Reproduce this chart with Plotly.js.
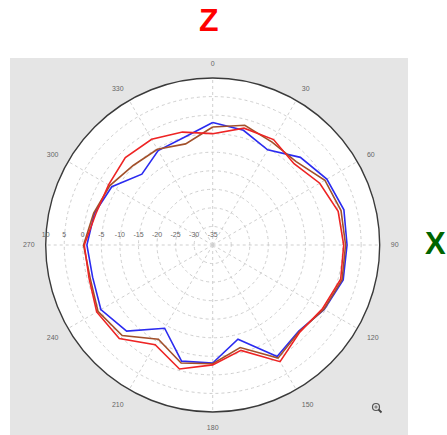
<!DOCTYPE html>
<html>
<head>
<meta charset="utf-8">
<script src="https://cdn.plot.ly/plotly-3.0.1.min.js"></script>
<style>html,body{margin:0;padding:0;background:#fff;}#chart{width:447px;height:435px;}</style>
</head>
<body>
<div id="chart"></div>
<script>
// Angles (degrees, clockwise from top)
const angles = [0,15,30,45,60,75,90,105,120,135,150,165,180,195,210,225,240,255,270,285,300,315,330,345];
// Series values (dB)
const blueVals  = [-2.0,-3.0,-5.4,-1.6,0.5,1.6,1.2,1.4,-0.3,-2.2,-0.3,-8.7,-3.2,-2.6,-9.1,-2.2,-0.2,-1.5,-1.1,-2.0,-3.6,-8.0,-5.6,-5.0];
const brownVals = [-3.2,-1.6,-3.0,-3.2,-0.1,0.8,0.8,1.1,-0.4,-2.0,0.2,-6.4,-3.0,-2.1,-5.7,-0.5,0.7,-0.8,-0.2,-1.8,-3.0,-4.7,-5.2,-6.8];
const redVals   = [-5.0,-2.4,-2.2,-4.0,-1.7,0.0,0.3,0.7,-0.8,-1.8,1.3,-5.6,-2.7,-0.4,-4.0,0.6,1.1,-0.5,-0.4,-2.4,-2.6,-1.7,-2.1,-3.5];
// Tick labels
const radialTicks = [-35,-30,-25,-20,-15,-10,-5,0,5,10];
const angularTicks = [0,30,60,90,120,150,180,210,240,270,300,330];

function closed(a){ return a.concat([a[0]]); }

const series = [
  {name:'blue', r: blueVals, color:'#2b2bf0'},
  {name:'brown', r: brownVals, color:'#a2502a'},
  {name:'red', r: redVals, color:'#ee2424'}
];

const traces = series.map(s => ({
  type:'scatterpolar', mode:'lines',
  r: closed(s.r), theta: closed(angles),
  line:{color:s.color, width:1.6},
  name:s.name, hoverinfo:'skip'
}));

const W = 447, H = 435;
const cx = 212.7, cy = 245, R = 167;

const layout = {
  width: W, height: H,
  margin:{l:0,r:0,t:0,b:0},
  paper_bgcolor:'#ffffff',
  showlegend:false,
  polar:{
    domain:{x:[(cx-R)/W,(cx+R)/W], y:[(H-cy-R)/H,(H-cy+R)/H]},
    bgcolor:'#ffffff',
    angularaxis:{
      rotation:90, direction:'clockwise',
      tickmode:'array', tickvals: angularTicks, ticktext: angularTicks.map(String),
      ticks:'outside', ticklen:9, tickcolor:'rgba(0,0,0,0)',
      showline:true, linecolor:'#3a3a3a', linewidth:1.4,
      gridcolor:'#cfcfcf', griddash:'dot', gridwidth:1,
      tickfont:{family:'Liberation Sans, Arial, sans-serif', size:7, color:'#666'}
    },
    radialaxis:{
      range:[-35,10], angle:180, side:'clockwise', tickangle:180,
      tickmode:'array', tickvals: radialTicks, ticktext: radialTicks.map(String),
      ticks:'outside', ticklen:6, tickcolor:'rgba(0,0,0,0)', showline:false,
      gridcolor:'#cfcfcf', griddash:'dot', gridwidth:1,
      tickfont:{family:'Liberation Sans, Arial, sans-serif', size:7, color:'#666'}
    }
  },
  shapes:[
    {type:'rect', xref:'paper', yref:'paper', x0:10/W, x1:408/W, y0:0, y1:(H-58)/H,
     fillcolor:'#e5e5e5', line:{width:0}, layer:'below'},
    {type:'circle', xref:'paper', yref:'paper', x0:(372.5)/W, x1:(379.5)/W, y0:(H-410.5)/H, y1:(H-403.5)/H,
     line:{color:'#555', width:1.2}, fillcolor:'rgba(0,0,0,0)'},
    {type:'line', xref:'paper', yref:'paper', x0:378.5/W, x1:381.5/W, y0:(H-409.5)/H, y1:(H-412.5)/H,
     line:{color:'#444', width:1.8}},
    {type:'line', xref:'paper', yref:'paper', x0:374.3/W, x1:377.7/W, y0:(H-407)/H, y1:(H-407)/H,
     line:{color:'#555', width:0.8}},
    {type:'line', xref:'paper', yref:'paper', x0:376/W, x1:376/W, y0:(H-405.3)/H, y1:(H-408.7)/H,
     line:{color:'#555', width:0.8}}
  ],
  annotations:[
    {text:'<b>Z</b>', xref:'paper', yref:'paper', x:209/W, y:(H-20)/H, showarrow:false,
     xanchor:'center', yanchor:'middle', font:{family:'Liberation Sans, Arial, sans-serif', size:32, color:'#ff0000'}},
    {text:'<b>X</b>', xref:'paper', yref:'paper', x:435/W, y:(H-244)/H, showarrow:false,
     xanchor:'center', yanchor:'middle', font:{family:'Liberation Sans, Arial, sans-serif', size:31, color:'#006400'}}
  ]
};

Plotly.newPlot('chart', traces, layout, {displayModeBar:false, staticPlot:true});
</script>
</body>
</html>
